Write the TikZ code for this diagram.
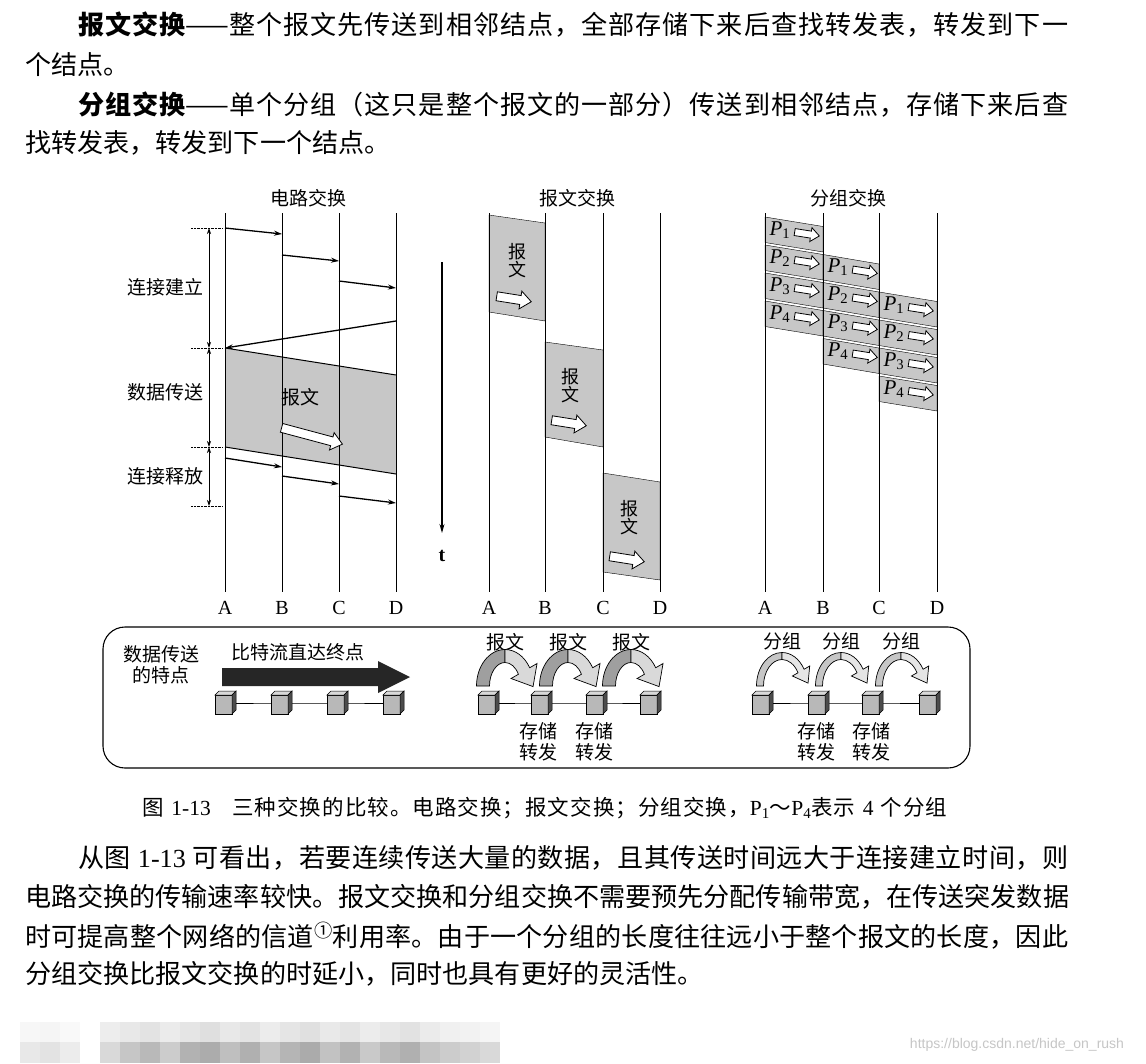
\documentclass[tikz,border=0pt]{standalone}
\usepackage{fontspec}
\setmainfont{Noto Sans CJK SC}
\newfontfamily\lat{Liberation Serif}
\newfontfamily\wmfont{Liberation Sans}
\usetikzlibrary{calc,arrows.meta}
% stretchable glue between CJK characters
\XeTeXinterchartokenstate=1
\newcount\cjkc
\cjkc="4E00
\loop \XeTeXcharclass\cjkc=1 \advance\cjkc by 1 \ifnum\cjkc<"A000 \repeat
\XeTeXcharclass"FF0C=1 \XeTeXcharclass"3002=1 \XeTeXcharclass"FF08=1 \XeTeXcharclass"FF09=1
\XeTeXcharclass"FF1B=1 \XeTeXcharclass"FF5E=1 \XeTeXcharclass"2460=1
\XeTeXinterchartoks 1 1 = {\hskip 0pt plus 1pt\relax}
\definecolor{bandgray}{gray}{0.78}
\definecolor{cubeface}{gray}{0.72}
\definecolor{cubetop}{gray}{0.85}
\definecolor{cubeside}{gray}{0.3}

% packet label
\newcommand\pkt[1]{{\lat\itshape P}{\lat\textsubscript{#1}}}
% curved ribbon arrow: cx, cy, width, head half width, head length, dark, light
\newcommand\ribbon[7]{%
  \pgfmathsetmacro\rxo{22+#3/2}\pgfmathsetmacro\ryo{30+#3/2}
  \pgfmathsetmacro\rxi{22-#3/2}\pgfmathsetmacro\ryi{30-#3/2}
  \filldraw[fill=#6,line width=0.7pt] (#1-\rxo,#2) arc[start angle=180,end angle=270,x radius=\rxo,y radius=\ryo]
    -- (#1,#2-\ryi) arc[start angle=270,end angle=180,x radius=\rxi,y radius=\ryi] -- cycle;
  \coordinate (oe) at ({#1+0.866*\rxo},{#2-0.5*\ryo});
  \coordinate (ie) at ({#1+0.866*\rxi},{#2-0.5*\ryi});
  \coordinate (me) at ({#1+0.866*22},{#2-0.5*30});
  \filldraw[fill=#7,line width=0.7pt] (#1,#2-\ryo) arc[start angle=270,end angle=330,x radius=\rxo,y radius=\ryo]
    -- ($(me)!#4!(oe)$) -- ($(me)!#5!-90:(oe)$) -- ($(me)!#4!(ie)$) -- (ie)
    arc[start angle=330,end angle=270,x radius=\rxi,y radius=\ryi] -- cycle;
}

\tikzset{
  body/.style={anchor=west,inner sep=0pt,font=\fontsize{26.1}{32}\selectfont},
  lab/.style={inner sep=0pt,align=center,font=\fontsize{19}{21}\selectfont},
  nlab/.style={inner sep=0pt,font=\lat\fontsize{20}{22}\selectfont},
  life/.style={line width=0.9pt},
  sig/.style={line width=1.3pt,-{Stealth[length=8pt,width=5pt]}},
  dim/.style={line width=0.7pt,{Stealth[length=6pt,width=4pt]}-{Stealth[length=6pt,width=4pt]}},
  fatarrow/.pic={
    \filldraw[fill=white,line width=0.8pt] (-#1/2,-4.5) -- (#1/2-11,-4.5) -- (#1/2-11,-9) -- (#1/2,0)
      -- (#1/2-11,9) -- (#1/2-11,4.5) -- (-#1/2,4.5) -- cycle;
  },
  cube/.pic={
    \filldraw[fill=cubeface,line width=0.5pt] (-10,-8) rectangle (7,11);
    \filldraw[fill=cubetop,line width=0.5pt] (-10,-8) -- (-6,-12) -- (11,-12) -- (7,-8) -- cycle;
    \filldraw[fill=cubeside,line width=0.5pt] (7,-8) -- (11,-12) -- (11,7) -- (7,11) -- cycle;
  }
}

\begin{document}
\begin{tikzpicture}[x=1pt,y=-1pt]
\useasboundingbox (0,0) rectangle (1146,1063);
\fill[white] (0,0) rectangle (1146,1063);

% text above
\node[body] (p1a) at (78,25) {\makebox[990pt][s]{{\bfseries 报文交换}——整个报文先传送到相邻结点，全部存储下来后查找转发表，转发到下一}};
\node[body] (p1b) at (25,65) {个结点。};
\node[body] (p2a) at (78,105) {\makebox[990pt][s]{{\bfseries 分组交换}——单个分组（这只是整个报文的一部分）传送到相邻结点，存储下来后查}};
\node[body] (p2b) at (25,143) {找转发表，转发到下一个结点。};

% circuit switching
\node[lab] (t1) at (308,198) {电路交换};
\fill[bandgray] (225,348) -- (396,375) -- (396,474) -- (225,447) -- cycle;
\foreach \x/\n in {225/A,282/B,339/C,396/D}{
  \draw[life] (\x,213) -- (\x,592);
  \node[nlab] (c\n) at (\x,608) {\n};
}
\draw[line width=1pt] (225,348) -- (396,375) (225,447) -- (396,474);
\draw[sig] (225,228) -- (282,234);
\draw[sig] (282,255) -- (339,261);
\draw[sig] (339,281) -- (396,288);
\draw[sig] (396,321) -- (225,348);
\draw[sig] (225,458) -- (282,467);
\draw[sig] (282,476) -- (339,484);
\draw[sig] (339,496) -- (396,503);
\foreach \y in {228,348,447,506} \draw[densely dotted] (191,\y) -- (222,\y);
\draw[dim] (209,228) -- (209,348);
\draw[dim] (209,348) -- (209,447);
\draw[dim] (209,447) -- (209,506);
\node[lab] (setup) at (165,287) {连接建立};
\node[lab] (data) at (165,392) {数据传送};
\node[lab] (rel) at (165,476) {连接释放};
\node[lab] (cmsg) at (300,397) {报文};
\pic[rotate=-15] at (312,436) {fatarrow=63};

% message switching
\node[lab] (t2) at (577,198) {报文交换};
\filldraw[fill=bandgray] (489,215) -- (545,223) -- (545,321) -- (489,312) -- cycle;
\filldraw[fill=bandgray] (545,342) -- (603,350) -- (603,447) -- (545,437) -- cycle;
\filldraw[fill=bandgray] (603,473) -- (660,482) -- (660,580) -- (603,572) -- cycle;
\foreach \x/\n in {489/A,545/B,603/C,660/D}{
  \draw[life] (\x,213) -- (\x,592);
  \node[nlab] (m\n) at (\x,608) {\n};
}
\node[lab,font=\fontsize{18}{18}\selectfont] (msg1) at (517,261) {报\\文};
\node[lab,font=\fontsize{18}{18}\selectfont] (msg2) at (570,386) {报\\文};
\node[lab,font=\fontsize{18}{18}\selectfont] (msg3) at (629,518) {报\\文};
\pic[rotate=-9] at (514,299) {fatarrow=35};
\pic[rotate=-9] at (569,423) {fatarrow=35};
\pic[rotate=-9] at (627,559) {fatarrow=35};
\draw[line width=1.2pt,-{Stealth[length=9pt,width=5pt]}] (442,262) -- (442,533);
\node[nlab,font=\lat\bfseries\fontsize{20}{22}\selectfont] (tl) at (442,556) {t};

% packet switching
\node[lab] (t3) at (848,198) {分组交换};
\foreach \j/\xl/\xr in {0/765/823,1/823/879,2/879/937}{
  \foreach \i in {1,...,4}{
    \pgfmathsetmacro\yt{217+(\i-1+\j)*28+\j*9.5}
    \filldraw[fill=bandgray] (\xl,\yt) -- (\xr,\yt+9.5) -- (\xr,\yt+35) -- (\xl,\yt+25.5) -- cycle;
    \node[inner sep=0pt,font=\fontsize{21}{21}\selectfont] (p\j\i) at (\xl+15,\yt+13) {\pkt{\i}};
    \pic[rotate=-9,scale=0.78] at (\xl+42,\yt+17) {fatarrow=32};
  }
}
\foreach \x/\n in {765/A,823/B,879/C,937/D}{
  \draw[life] (\x,213) -- (\x,592);
  \node[nlab] (g\n) at (\x,608) {\n};
}

% bottom box
\draw[line width=1.1pt,rounded corners=22pt] (103,627) rectangle (970,768);
\node[lab] (feat) at (161,665) {数据传送\\的特点};
\node[lab] (bits) at (298,652) {比特流直达终点};
\fill[black!85] (222,668) -- (378,668) -- (378,661) -- (410,677) -- (378,693) -- (378,686) -- (222,686) -- cycle;
\coordinate (k1) at (225,703); \coordinate (k2) at (281,703);
\coordinate (k3) at (337,703); \coordinate (k4) at (393,703);
\draw (k1) -- (k2) -- (k3) -- (k4);
\foreach \k in {k1,k2,k3,k4} \pic at (\k) {cube};

\coordinate (q1) at (488,703); \coordinate (q2) at (541,703);
\coordinate (q3) at (596,703); \coordinate (q4) at (650,703);
\draw (q1) -- (q2) -- (q3) -- (q4);
\foreach \k in {q1,q2,q3,q4} \pic at (\k) {cube};
\foreach \x [count=\n] in {505,568,631}{
  \node[lab] (bw\n) at (\x,642) {报文};
  \ribbon{\x}{686}{13}{15pt}{18pt}{gray!75}{gray!30}
}
\node[lab] (sf1) at (538,742) {存储\\转发};
\node[lab] (sf2) at (594,742) {存储\\转发};

\coordinate (r1) at (762,703); \coordinate (r2) at (818,703);
\coordinate (r3) at (872,703); \coordinate (r4) at (929,703);
\draw (r1) -- (r2) -- (r3) -- (r4);
\foreach \k in {r1,r2,r3,r4} \pic at (\k) {cube};
\foreach \x [count=\n] in {782,841,901}{
  \node[lab] (fz\n) at (\x,641) {分组};
  \ribbon{\x}{686}{7}{10pt}{14pt}{gray!45}{gray!20}
}
\node[lab] (sf3) at (816,742) {存储\\转发};
\node[lab] (sf4) at (871,742) {存储\\转发};

% caption
\node[inner sep=0pt,font=\fontsize{21.5}{24}\selectfont] (cap) at (545,808)
  {\makebox[805pt][s]{图 {\lat 1-13}\quad 三种交换的比较。电路交换；报文交换；分组交换，{\lat P\textsubscript{1}}～{\lat P\textsubscript{4}}表示 {\lat 4} 个分组}};

% text below
\node[body] (p3a) at (78,858) {\makebox[990pt][s]{从图 {\lat 1-13} 可看出，若要连续传送大量的数据，且其传送时间远大于连接建立时间，则}};
\node[body] (p3b) at (25,897) {\makebox[1043pt][s]{电路交换的传输速率较快。报文交换和分组交换不需要预先分配传输带宽，在传送突发数据}};
\node[body] (p3c) at (25,936) {\makebox[1043pt][s]{时可提高整个网络的信道\textsuperscript{①}利用率。由于一个分组的长度往往远小于整个报文的长度，因此}};
\node[body] (p3d) at (25,974) {分组交换比报文交换的时延小，同时也具有更好的灵活性。};

% blurred strip
\foreach \x/\a/\b in {20/6/18,40/8/22,60/5/15,100/14/30,120/18/45,140/22/55,160/16/40,180/20/60,200/25/65,220/18/50,240/22/62,260/15/45,280/20/58,300/24/66,320/17/48,340/21/60,360/15/42,380/19/55,400/23/62,420/16/46,440/12/40,460/10/35,480/8/30}{
  \fill[gray!\a] (\x,1022) rectangle +(20,20);
  \fill[gray!\b] (\x,1042) rectangle +(20,21);
}
\node[inner sep=0pt,text=gray!45,font=\wmfont\fontsize{14}{16}\selectfont] (mark) at (1017,1045) {https://blog.csdn.net/hide\_on\_rush};
\end{tikzpicture}
\end{document}
